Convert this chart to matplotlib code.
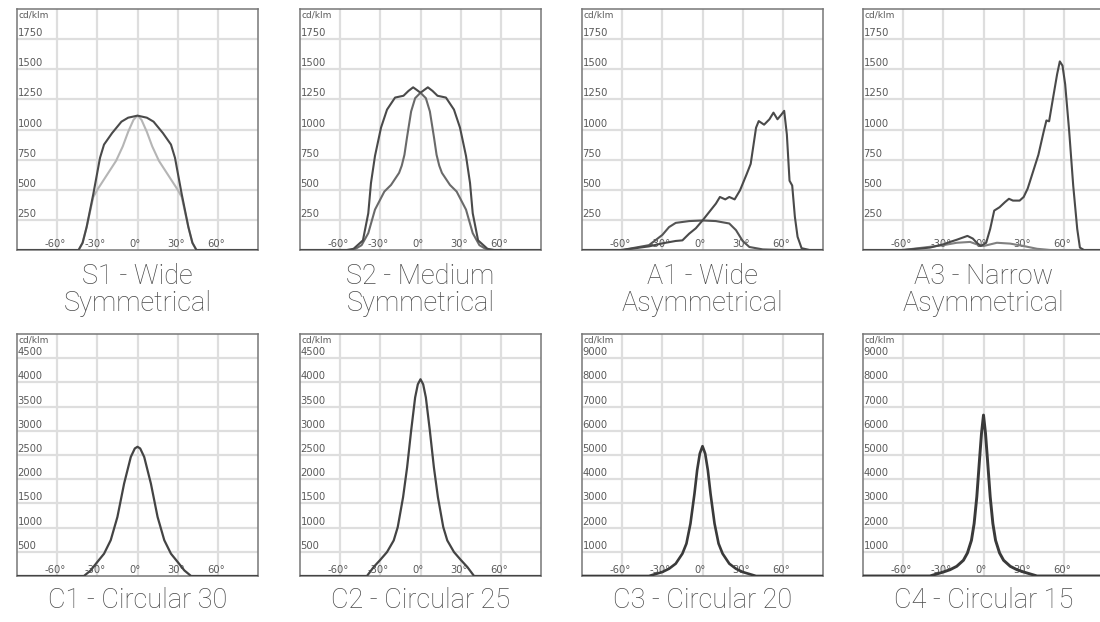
import matplotlib
matplotlib.use("Agg")
import matplotlib.pyplot as plt
import matplotlib.transforms as mtransforms

# --- data (angle in degrees, intensity in cd/klm) ---
s1_ang = [-90, -44, -41, -38, -33, -28, -25, -19, -12, -7, 0, 7, 12, 19, 25, 28, 33, 38, 41, 44, 90]
s1_main = [0, 0, 60, 190, 465, 765, 875, 970, 1065, 1098, 1115, 1098, 1065, 970, 875, 765, 465, 190, 60, 0, 0]
s1_ang2 = [-90, -44, -41, -38, -33, -30, -23, -16, -11, -7, -3, 0, 3, 7, 11, 16, 23, 30, 33, 38, 41, 44, 90]
s1_second = [0, 0, 60, 190, 440, 500, 620, 740, 860, 980, 1080, 1115, 1080, 980, 860, 740, 620, 500, 440, 190, 60, 0, 0]

s2_ang = [-90, -55, -50, -43, -39, -37, -34, -29.5, -25, -19, -12.7, -9, -5.5, -3, 0,
          3, 5.5, 9, 12.7, 19, 25, 29.5, 34, 37, 39, 43, 50, 55, 90]
s2_main = [0, 0, 10, 80, 305, 555, 780, 1015, 1165, 1265, 1280, 1320, 1350, 1330, 1305,
           1330, 1350, 1320, 1280, 1265, 1165, 1015, 780, 555, 305, 80, 10, 0, 0]
s2_ang2 = [-90, -50, -44, -39, -34, -27, -22, -16, -14, -12, -10, -7, -4, 0,
           4, 7, 10, 12, 14, 16, 22, 27, 34, 39, 44, 50, 90]
s2_second = [0, 0, 40, 140, 335, 485, 540, 640, 700, 790, 940, 1150, 1260, 1305,
             1260, 1150, 940, 790, 700, 640, 540, 485, 335, 140, 40, 0, 0]

a1_ang = [-90, -60, -40, -30, -20, -15, -10, -5, 0, 5, 10, 13, 17, 20, 24, 28, 33, 36, 40, 42,
          46, 50, 53, 56, 59, 61, 63, 65, 67, 69, 71, 74, 80, 90]
a1_main = [0, 0, 30, 55, 75, 80, 135, 180, 245, 315, 385, 440, 420, 440, 420, 495, 630, 715, 1015, 1070,
           1040, 1085, 1140, 1085, 1125, 1155, 960, 575, 535, 275, 110, 15, 0, 0]
a1_ang2 = [-90, -60, -40, -30, -25, -20, -10, 0, 10, 20, 25, 30, 35, 45, 60, 90]
a1_second = [0, 0, 40, 125, 190, 225, 240, 245, 240, 220, 165, 75, 25, 5, 0, 0]

a3_ang = [-90, -60, -40, -30, -25, -20, -15, -12, -8, -5, -2, 2, 5, 8, 12, 16, 19, 22, 27, 30, 33,
          37, 41, 45, 47, 49, 52, 55, 57, 59, 61, 64, 67, 70, 72, 75, 90]
a3_main = [0, 0, 20, 47, 67, 85, 105, 117, 95, 60, 33, 60, 175, 327, 355, 397, 425, 410, 410, 440, 510,
           650, 790, 985, 1075, 1068, 1265, 1460, 1565, 1530, 1375, 985, 535, 175, 20, 0, 0]
a3_ang2 = [-90, -60, -30, -20, -10, -5, 0, 10, 20, 30, 40, 50, 90]
a3_second = [0, 0, 40, 60, 67, 47, 33, 60, 53, 33, 10, 0, 0]

c1_ang = [-90, -40, -35, -30, -25, -20, -15, -10, -5, -2, 0, 2, 5, 10, 15, 20, 25, 30, 35, 40, 90]
c1_vals = [0, 0, 115, 290, 460, 740, 1220, 1910, 2460, 2635, 2670, 2635, 2460, 1910, 1220, 740, 460, 290, 115, 0, 0]

c2_ang = [-90, -40, -35, -30, -25, -20, -17, -13, -10, -7, -4, -2, 0, 2, 4, 7, 10, 13, 17, 20, 25, 30, 35, 40, 90]
c2_vals = [0, 0, 185, 335, 495, 735, 1010, 1630, 2245, 3000, 3690, 3960, 4065,
           3960, 3690, 3000, 2245, 1630, 1010, 735, 495, 335, 185, 0, 0]

c3_ang = [-90, -40, -30, -25, -20, -15, -12, -9, -6, -4, -2, 0, 2, 4, 6, 9, 12, 15, 20, 25, 30, 40, 90]
c3_vals = [0, 0, 165, 300, 510, 925, 1340, 2165, 3400, 4370, 5060, 5365,
           5060, 4370, 3400, 2165, 1340, 925, 510, 300, 165, 0, 0]

c4_ang = [-90, -40, -30, -25, -20, -15, -12, -9, -7, -5, -3, -1.5, 0, 1.5, 3, 5, 7, 9, 12, 15, 20, 25, 30, 40, 90]
c4_vals = [0, 0, 165, 260, 400, 650, 950, 1475, 2165, 3270, 4790, 5890, 6650,
           5890, 4790, 3270, 2165, 1475, 950, 650, 400, 260, 165, 0, 0]

top_yticks = [250, 500, 750, 1000, 1250, 1500, 1750]
c12_yticks = [500, 1000, 1500, 2000, 2500, 3000, 3500, 4000, 4500]
c34_yticks = [1000, 2000, 3000, 4000, 5000, 6000, 7000, 8000, 9000]
x_ticks = [-60, -30, 0, 30, 60]

panels = [
    # (title, ymax, yticks, [(angles, values, color)])
    ("S1 - Wide\nSymmetrical", 2000, top_yticks,
     [(s1_ang2, s1_second, "#b5b5b5"), (s1_ang, s1_main, "#4a4a4a")]),
    ("S2 - Medium\nSymmetrical", 2000, top_yticks,
     [(s2_ang2, s2_second, "#6a6a6a"), (s2_ang, s2_main, "#4a4a4a")]),
    ("A1 - Wide\nAsymmetrical", 2000, top_yticks,
     [(a1_ang2, a1_second, "#555555"), (a1_ang, a1_main, "#4a4a4a")]),
    ("A3 - Narrow\nAsymmetrical", 2000, top_yticks,
     [(a3_ang2, a3_second, "#808080"), (a3_ang, a3_main, "#4a4a4a")]),
    ("C1 - Circular 30", 5000, c12_yticks, [(c1_ang, c1_vals, "#444444")]),
    ("C2 - Circular 25", 5000, c12_yticks, [(c2_ang, c2_vals, "#444444")]),
    ("C3 - Circular 20", 10000, c34_yticks, [(c3_ang, c3_vals, "#3a3a3a")]),
    ("C4 - Circular 15", 10000, c34_yticks, [(c4_ang, c4_vals, "#3a3a3a")]),
]
line_widths = [1.5, 1.5, 1.5, 1.5, 1.6, 1.6, 1.9, 2.1]

W, H = 1100, 622
lefts = [17, 300, 582, 863]
rows = [(9, 250), (334, 576)]   # (top, bottom) in pixels
pw = 241

fig = plt.figure(figsize=(W / 100, H / 100), dpi=100)
fig.patch.set_facecolor("white")

tick_font = dict(family="DejaVu Sans", fontsize=7.2, color="#5a5a5a")

for i, (title, ymax, yticks, curves) in enumerate(panels):
    r, c = divmod(i, 4)
    top, bot = rows[r]
    ax = fig.add_axes([lefts[c] / W, 1 - bot / H, pw / W, (bot - top) / H])
    ax.set_xlim(-90, 90)
    ax.set_ylim(0, ymax)
    ax.set_xticks([])
    ax.set_yticks([])
    for sp in ax.spines.values():
        sp.set_color("#777777")
        sp.set_linewidth(1.1)

    for xv in x_ticks:
        ax.axvline(xv, color="#dedede", lw=1.6, zorder=0)
    for yv in yticks:
        ax.axhline(yv, color="#dedede", lw=1.6, zorder=0)

    for ang, vals, col in curves:
        ax.plot(ang, vals, color=col, lw=line_widths[i], solid_joinstyle="round", zorder=3)

    for yv in yticks:
        ax.text(-89.5, yv + ymax * 0.004, str(yv), ha="left", va="bottom", zorder=2, **tick_font)
    trans = mtransforms.blended_transform_factory(ax.transData, ax.transAxes)
    for xv in x_ticks:
        ax.text(xv - 1.5, 0.004, f"{xv}°", ha="center", va="bottom", transform=trans,
                zorder=2, **tick_font)
    ax.text(0.006, 0.995, "cd/klm", ha="left", va="top", transform=ax.transAxes,
            family="DejaVu Sans", fontsize=6.5, color="#5a5a5a", zorder=2)

    cx = (lefts[c] + pw / 2) / W
    ty = 1 - (bot + 40) / H if r == 0 else 1 - (bot + 24) / H
    fig.text(cx, ty, title, ha="center", va="center", fontsize=19.5, color="#4a4a4a",
             family="Roboto", fontweight="light", linespacing=0.96)

fig.savefig("out.png", dpi=100, facecolor="white")
